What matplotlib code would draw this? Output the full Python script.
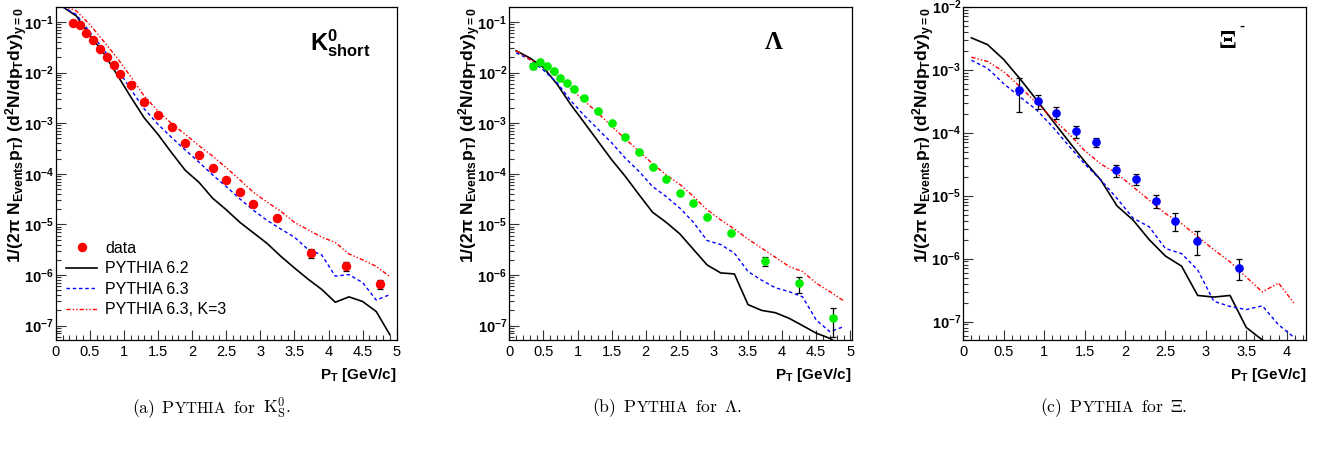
import numpy as np
import matplotlib
matplotlib.use("Agg")
import matplotlib.pyplot as plt
from matplotlib.ticker import LogLocator, FuncFormatter, MultipleLocator, NullFormatter
from matplotlib.offsetbox import TextArea, HPacker, AnnotationBbox

plt.rcParams['font.family'] = ['Liberation Sans', 'DejaVu Sans']
plt.rcParams['mathtext.fontset'] = 'custom'
plt.rcParams['mathtext.rm'] = 'Liberation Sans:bold'
plt.rcParams['mathtext.it'] = 'Liberation Sans:bold'
plt.rcParams['mathtext.bf'] = 'Liberation Sans:bold'

# ---------------- data ----------------
pt_sim = [0.1, 0.3, 0.5, 0.7, 0.9, 1.1, 1.3, 1.5, 1.7, 1.9, 2.1, 2.3, 2.5,
          2.7, 2.9, 3.1, 3.3, 3.5, 3.7, 3.9, 4.1, 4.3, 4.5, 4.7, 4.9]

# (a) K0short
k0_pt = [0.25, 0.35, 0.45, 0.55, 0.65, 0.75, 0.85, 0.95, 1.1, 1.3, 1.5, 1.7,
         1.9, 2.1, 2.3, 2.5, 2.7, 2.9, 3.25, 3.75, 4.25, 4.75]
k0_data = [0.095, 0.086, 0.060, 0.043, 0.029, 0.0206, 0.0141, 0.0095, 0.0057,
           0.0026, 0.00148, 0.00083, 0.00040, 2.32e-4, 1.32e-4, 7.6e-5, 4.4e-5,
           2.56e-5, 1.35e-5, 2.7e-6, 1.5e-6, 6.6e-7]
k0_err = [0.004, 0.004, 0.003, 0.002, 0.0014, 0.001, 7e-4, 5e-4, 3e-4, 1.3e-4,
          7e-5, 4e-5, 2e-5, 1.2e-5, 7e-6, 4e-6, 2.2e-6, 1.3e-6, 7e-7, 0.5e-6,
          0.3e-6, 1.4e-7]
k0_py62 = [0.20, 0.132, 0.055, 0.0245, 0.0091, 0.0033, 0.00126, 6.0e-4, 2.6e-4,
           1.17e-4, 6.8e-5, 3.3e-5, 1.95e-5, 1.1e-5, 6.8e-6, 4.2e-6, 2.35e-6,
           1.38e-6, 8.3e-7, 5.2e-7, 2.9e-7, 3.7e-7, 3.0e-7, 1.9e-7, 6.6e-8]
k0_py63 = [0.20, 0.141, 0.063, 0.029, 0.012, 0.0047, 0.0019, 9.5e-4, 5.2e-4,
           2.95e-4, 1.7e-4, 9.5e-5, 5.6e-5, 3.2e-5, 1.9e-5, 1.2e-5, 8.1e-6,
           5.6e-6, 3.2e-6, 2.5e-6, 9.5e-7, 1.02e-6, 7.1e-7, 3.2e-7, 4.1e-7]
k0_py63k3 = [0.21, 0.166, 0.089, 0.042, 0.0195, 0.0083, 0.0034, 0.00174, 9.8e-4,
             6.0e-4, 3.6e-4, 2.24e-4, 1.32e-4, 7.6e-5, 4.3e-5, 2.75e-5, 1.82e-5,
             1.1e-5, 7.8e-6, 5.6e-6, 4.4e-6, 2.6e-6, 2.0e-6, 1.48e-6, 9.3e-7]

# (b) Lambda
la_pt = [0.35, 0.45, 0.55, 0.65, 0.75, 0.85, 0.95, 1.1, 1.3, 1.5, 1.7, 1.9,
         2.1, 2.3, 2.5, 2.7, 2.9, 3.25, 3.75, 4.25, 4.75]
la_data = [0.0135, 0.0162, 0.0132, 0.0105, 0.0079, 0.0062, 0.0047, 0.0031,
           0.00174, 0.00102, 5.4e-4, 2.7e-4, 1.38e-4, 7.9e-5, 4.1e-5, 2.7e-5,
           1.41e-5, 6.8e-6, 1.9e-6, 6.8e-7, 1.4e-7]
la_err = [0.002, 6e-4, 5e-4, 4e-4, 3e-4, 2.5e-4, 2e-4, 1.2e-4, 7e-5, 4e-5,
          2e-5, 1e-5, 5e-6, 3e-6, 1.6e-6, 1e-6, 6e-7, 3e-7, 0.4e-6, 2.3e-7,
          0.8e-7]
la_py62 = [0.0269, 0.0195, 0.0126, 0.0059, 0.00234, 0.00102, 4.4e-4, 1.9e-4,
           8.9e-5, 3.9e-5, 1.74e-5, 1.1e-5, 6.5e-6, 3.2e-6, 1.58e-6, 1.1e-6,
           1.05e-6, 2.6e-7, 2.0e-7, 1.8e-7, 1.4e-7, 1.0e-7, 7.1e-8, 5.6e-8, 3.8e-8]
la_py63 = [0.0245, 0.0182, 0.0112, 0.0063, 0.0028, 0.00141, 7.6e-4, 4.1e-4,
           2.04e-4, 1.12e-4, 5.6e-5, 3.55e-5, 2.1e-5, 1.1e-5, 4.8e-6, 4.0e-6,
           2.7e-6, 1.17e-6, 7.9e-7, 5.6e-7, 4.7e-7, 3.7e-7, 1.29e-7, 7.6e-8, 9.5e-8]
la_py63k3 = [0.0269, 0.0182, 0.0135, 0.0083, 0.0048, 0.00275, 0.00158, 8.7e-4,
             4.9e-4, 2.8e-4, 1.58e-4, 9.5e-5, 6.2e-5, 3.55e-5, 1.95e-5, 1.23e-5,
             8.1e-6, 5.1e-6, 3.4e-6, 2.24e-6, 1.48e-6, 1.17e-6, 6.9e-7, 4.7e-7, 3.1e-7]

# (c) Xi
xi_pt = [0.685, 0.92, 1.15, 1.39, 1.64, 1.89, 2.14, 2.39, 2.62, 2.89, 3.41]
xi_data = [4.7e-4, 3.2e-4, 2.07e-4, 1.05e-4, 7.1e-5, 2.52e-5, 1.82e-5, 8.2e-6,
           4.0e-6, 1.93e-6, 7.1e-7]
xi_err = [2.6e-4, 0.8e-4, 0.45e-4, 0.23e-4, 1.1e-5, 0.57e-5, 0.37e-5, 1.9e-6,
          1.25e-6, 0.78e-6, 2.6e-7]
xi_sim_pt = [0.1, 0.3, 0.5, 0.7, 0.9, 1.1, 1.3, 1.5, 1.7, 1.9, 2.1, 2.3, 2.5,
             2.7, 2.9, 3.1, 3.3, 3.5, 3.7, 3.9, 4.1]
xi_py62 = [3.2e-3, 2.5e-3, 1.45e-3, 7.2e-4, 3.4e-4, 1.58e-4, 7.4e-5, 3.5e-5,
           1.78e-5, 6.9e-6, 4.1e-6, 2.0e-6, 1.1e-6, 7.6e-7, 2.6e-7, 2.45e-7,
           2.6e-7, 8.1e-8, 5.1e-8, 3.5e-8, 2.5e-8]
xi_py63 = [1.41e-3, 1.05e-3, 6.0e-4, 3.7e-4, 2.34e-4, 1.26e-4, 6.3e-5, 3.2e-5,
           1.78e-5, 9.1e-6, 4.4e-6, 3.2e-6, 1.45e-6, 1.2e-6, 6.6e-7, 2.1e-7,
           1.74e-7, 1.55e-7, 1.78e-7, 8.9e-8, 5.5e-8]
xi_py63k3 = [1.58e-3, 1.35e-3, 9.3e-4, 5.4e-4, 3.0e-4, 1.7e-4, 9.8e-5, 5.2e-5,
             3.2e-5, 2.24e-5, 1.38e-5, 8.5e-6, 5.2e-6, 3.6e-6, 2.24e-6, 1.38e-6,
             8.9e-7, 5.1e-7, 2.95e-7, 4.1e-7, 1.9e-7]

legend_labels = ['data', 'PYTHIA 6.2', 'PYTHIA 6.3', 'PYTHIA 6.3, K=3']
caption_tags = ['(a)', '(b)', '(c)']
caption_names = [r'K^{0}_{S}', r'\Lambda', r'\Xi']
smallcaps = 'YTHIA'

# ---------------- figure ----------------
W, H = 1331, 449
fig = plt.figure(figsize=(W / 100, H / 100), dpi=100)

def px_axes(l, r, t, b):
    return fig.add_axes([l / W, 1 - b / H, (r - l) / W, (b - t) / H])

axA = px_axes(55.7, 396.7, 6.7, 340)
axB = px_axes(509.3, 851.7, 6.7, 340)
axC = px_axes(963.3, 1306, 6.7, 340)

ylab = r'$\mathrm{1/(2\pi\ N_{Events}p_{T})\ (d^{2}N/dp_{T}dy)_{y=0}}$'
xlab = r'$\mathrm{P_{T}\ [GeV/c]}$'

blue_ls = (0, (2.5, 2.0))
red_ls = (0, (3.0, 1.5, 1.0, 1.5, 1.0, 1.5))


def style(ax, xmax, ylo, yhi):
    ax.set_yscale('log')
    ax.set_xlim(0, xmax)
    ax.set_ylim(ylo, yhi)
    ax.xaxis.set_major_locator(MultipleLocator(0.5))
    ax.xaxis.set_minor_locator(MultipleLocator(0.1))
    ax.xaxis.set_major_formatter(FuncFormatter(lambda v, _: f"{v:g}"))
    ax.yaxis.set_major_locator(LogLocator(base=10, numticks=20))
    ax.yaxis.set_minor_locator(LogLocator(base=10, subs=np.arange(2, 10), numticks=100))
    ax.yaxis.set_minor_formatter(NullFormatter())
    ax.yaxis.set_major_formatter(FuncFormatter(
        lambda v, _: r'$\mathrm{10^{%d}}$' % int(round(np.log10(v)))))
    ax.tick_params(which='both', direction='in', top=False, right=False,
                   color='#333333', width=0.8)
    ax.tick_params(which='major', length=7.2, labelsize=10.5)
    ax.tick_params(which='minor', length=3.6)
    ax.tick_params(axis='y', which='major', pad=1.5)
    ax.tick_params(axis='x', which='major', pad=3.5)
    for s in ax.spines.values():
        s.set_linewidth(0.9)
    ax.set_xlabel(xlab, loc='right', fontsize=11, labelpad=5)
    ax.set_ylabel(ylab, loc='top', fontsize=12.6)
    ax.yaxis.set_label_coords(-0.076, 1.0)


def draw(ax, spt, s62, s63, s63k, dpt, dval, derr, color, ms):
    ax.plot(spt, s62, color='black', lw=1.2, label=legend_labels[1], zorder=2)
    ax.plot(spt, s63, color='blue', lw=1.0, ls=blue_ls, label=legend_labels[2], zorder=2)
    ax.plot(spt, s63k, color='red', lw=1.0, ls=red_ls, label=legend_labels[3], zorder=2)
    ax.errorbar(dpt, dval, yerr=derr, fmt='none', ecolor='black', elinewidth=0.9,
                capsize=2, capthick=0.9, zorder=3)
    h, = ax.plot(dpt, dval, 'o', color=color, ms=ms, mec=color, ls='none',
                 label=legend_labels[0], zorder=4)
    return h


style(axA, 5.0, 5.2e-8, 0.2)
draw(axA, pt_sim, k0_py62, k0_py63, k0_py63k3, k0_pt, k0_data, k0_err, 'red', 5.8)
style(axB, 5.02, 5.2e-8, 0.2)
draw(axB, pt_sim, la_py62, la_py63, la_py63k3, la_pt, la_data, la_err, '#00ee00', 5.2)
style(axC, 4.24, 5.1e-8, 1e-2)
draw(axC, xi_sim_pt, xi_py62, xi_py63, xi_py63k3, xi_pt, xi_data, xi_err, 'blue', 5.2)

# legend in panel (a)
hs, ls = axA.get_legend_handles_labels()
order = [ls.index(l) for l in legend_labels]
axA.legend([hs[i] for i in order], [ls[i] for i in order], loc='lower left',
           bbox_to_anchor=(0.03, 0.068), borderaxespad=0, borderpad=0,
           frameon=False, fontsize=11.5, handlelength=1.95, handletextpad=0.5,
           labelspacing=0.34, numpoints=1)

# panel labels
axA.text(0.746, 0.87, r'$\mathrm{K^{0}_{short}}$', transform=axA.transAxes,
         fontsize=17, ha='left', va='baseline')
axB.text(0.747, 0.873, 'Λ', transform=axB.transAxes, fontsize=18,
         family='Liberation Serif', weight='bold', ha='left', va='baseline')
axC.text(0.746, 0.876, 'Ξ', transform=axC.transAxes, fontsize=19,
         family='Liberation Serif', weight='bold', ha='left', va='baseline')
axC.text(0.806, 0.932, '-', transform=axC.transAxes, fontsize=11,
         weight='bold', ha='left', va='baseline')

# captions (Computer Modern, small caps imitated)
cap_x = [211, 667, 1114]
big = dict(fontsize=12.7, math_fontfamily='cm', color='black')
small = dict(fontsize=11.0, math_fontfamily='cm', color='black')
for tag, name, cx in zip(caption_tags, caption_names, cap_x):
    pythia = HPacker(children=[TextArea(r'$\mathrm{P}$', textprops=big),
                               TextArea(r'$\mathrm{%s}$' % smallcaps, textprops=small)],
                     align='baseline', pad=0, sep=0.2)
    box = HPacker(children=[TextArea(r'$\mathrm{%s}$' % tag, textprops=big), pythia,
                            TextArea(r'$\mathrm{for}$', textprops=big),
                            TextArea(r'$\mathrm{%s.}$' % name, textprops=big)],
                  align='baseline', pad=0, sep=4.8)
    ab = AnnotationBbox(box, (cx / W, 1 - 408 / H), xycoords='figure fraction',
                        frameon=False, box_alignment=(0.5, 0.5), pad=0)
    fig.add_artist(ab)

fig.savefig('out.png', dpi=100)
